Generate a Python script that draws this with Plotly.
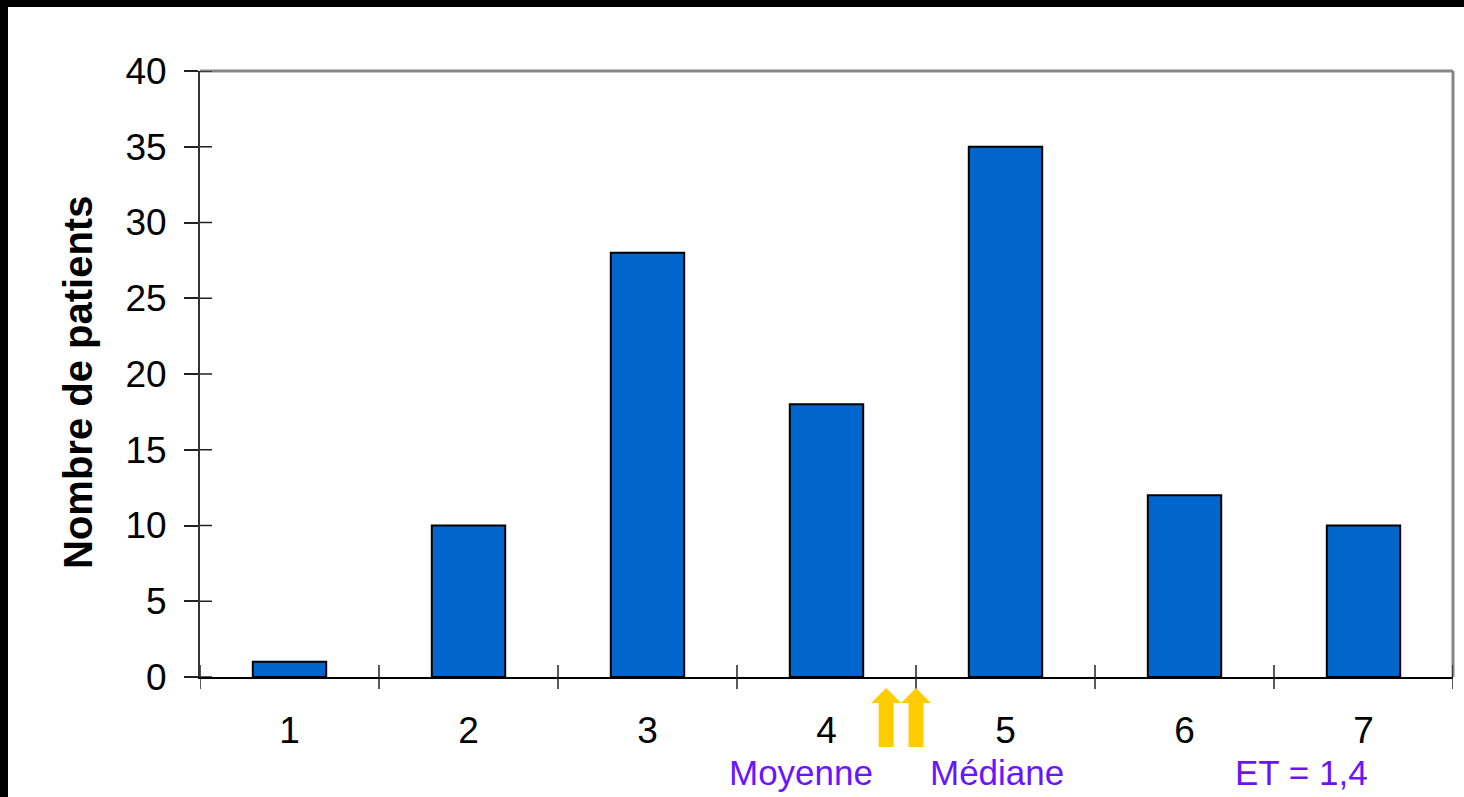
import plotly.graph_objects as go

# Score categories and patient counts
scores = [1, 2, 3, 4, 5, 6, 7]
patients = [1, 10, 28, 18, 35, 12, 10]
score_labels = ["1", "2", "3", "4", "5", "6", "7"]
y_ticks = [0, 5, 10, 15, 20, 25, 30, 35, 40]

# Summary statistics
n_total = sum(patients)
mean_score = sum(s * p for s, p in zip(scores, patients)) / n_total
ordered = []
for s, p in zip(scores, patients):
    ordered += [s] * p
if n_total % 2 == 0:
    median_score = (ordered[n_total // 2 - 1] + ordered[n_total // 2]) / 2
else:
    median_score = ordered[n_total // 2]
sd_label = "ET = 1,4"

W, H = 1464, 797
L, R, T, B = 200, 11, 71, 120
PW, PH = W - L - R, H - T - B


def px(xp):
    return (xp - L) / PW


def py(yp):
    return (H - B - yp) / PH


fig = go.Figure()
fig.add_trace(go.Bar(
    x=scores, y=patients, width=0.41,
    marker=dict(color="#0066CC", line=dict(color="black", width=2)),
))

shapes = []
# frame: grey top and right edges
shapes.append(dict(type="line", xref="paper", yref="paper", x0=0, x1=1, y0=1, y1=1,
                   line=dict(color="#858585", width=3)))
shapes.append(dict(type="line", xref="paper", yref="paper", x0=1, x1=1, y0=0, y1=1,
                   line=dict(color="#858585", width=3)))
# category boundary ticks crossing the x axis
for b in range(len(scores) + 1):
    xb = scores[0] - 0.5 + b
    shapes.append(dict(type="line", xref="x", yref="paper", x0=xb, x1=xb,
                       y0=py(689), y1=py(665), line=dict(color="#222222", width=1.5)))
# inner part of the y ticks
for v in y_ticks:
    shapes.append(dict(type="line", xref="paper", yref="y", x0=0, x1=px(212), y0=v, y1=v,
                       line=dict(color="#222222", width=1.5)))


def arrow(xc):
    return dict(type="path", xref="x", xsizemode="pixel", xanchor=xc, yref="paper",
                path=(f"M 0,{py(688)} L 15,{py(703)} L 7.5,{py(703)} L 7.5,{py(747)} "
                      f"L -7.5,{py(747)} L -7.5,{py(703)} L -15,{py(703)} Z"),
                fillcolor="#FFCC00", line=dict(width=0))


shapes.append(arrow(mean_score))
shapes.append(arrow(median_score))

# black bands along the top and left edges of the page
shapes.append(dict(type="rect", xref="paper", yref="paper", x0=px(0), x1=px(W), y0=py(7), y1=py(0),
                   fillcolor="black", line=dict(width=0), layer="above"))
shapes.append(dict(type="rect", xref="paper", yref="paper", x0=px(0), x1=px(8), y0=py(H), y1=py(0),
                   fillcolor="black", line=dict(width=0), layer="above"))

purple = "#6A14FF"
label_font = dict(family="Liberation Sans, Arial", size=35, color=purple)
annotations = [
    dict(text="Nombre de patients", textangle=-90, xref="paper", yref="paper",
         x=px(78), y=py(383), xanchor="center", yanchor="middle", showarrow=False,
         font=dict(family="Liberation Sans, Arial", size=40, color="black", weight="bold")),
    dict(text="Moyenne", xref="paper", yref="paper", x=px(801), y=py(772),
         xanchor="center", yanchor="middle", showarrow=False, font=label_font),
    dict(text="Médiane", xref="paper", yref="paper", x=px(997), y=py(772),
         xanchor="center", yanchor="middle", showarrow=False, font=label_font),
    dict(text=sd_label, xref="paper", yref="paper", x=px(1301), y=py(772),
         xanchor="center", yanchor="middle", showarrow=False, font=label_font),
]

fig.update_layout(
    width=W, height=H,
    margin=dict(l=L, r=R, t=T, b=B),
    paper_bgcolor="white", plot_bgcolor="white",
    showlegend=False,
    shapes=shapes,
    annotations=annotations,
    xaxis=dict(range=[0.5, 7.5], tickvals=scores, ticktext=score_labels, ticks="",
               showgrid=False, zeroline=False, showline=True, linecolor="black", linewidth=2,
               tickfont=dict(family="Liberation Sans, Arial", size=37, color="black"),
               ticklabelstandoff=20),
    yaxis=dict(range=[0, 40], tickvals=y_ticks, ticks="outside", ticklen=14, tickwidth=1.5,
               tickcolor="#222222", showgrid=False, zeroline=False, showline=True,
               linecolor="#333333", linewidth=2,
               tickfont=dict(family="Liberation Sans, Arial", size=37, color="black"),
               ticklabelstandoff=10),
)

fig.write_html("out.html")
